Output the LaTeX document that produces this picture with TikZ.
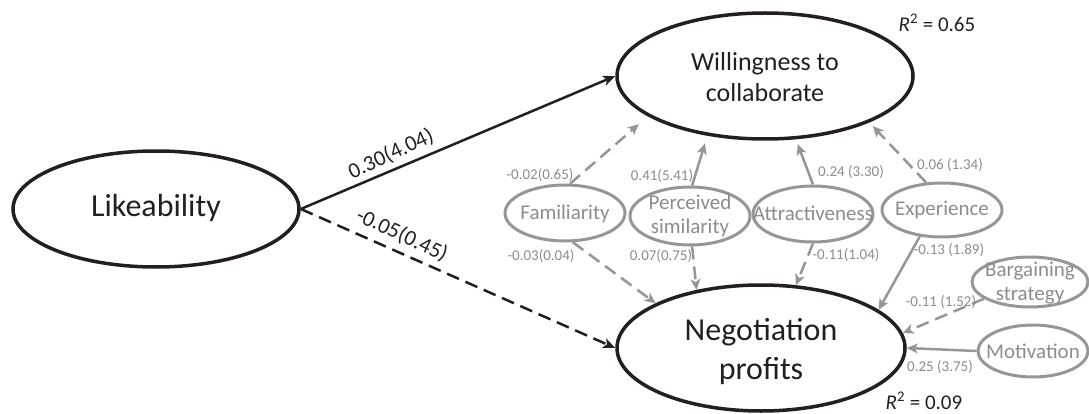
\documentclass[tikz,border=0pt]{standalone}
\usepackage{fontspec}
\setmainfont{Carlito}
\usetikzlibrary{arrows.meta,shapes.geometric}
\definecolor{ink}{RGB}{35,31,32}
\definecolor{gline}{RGB}{150,150,150}
\definecolor{gtext}{RGB}{140,140,140}
\begin{document}
\begin{tikzpicture}[x=1pt,y=-1pt,
  big/.style={ellipse, draw=ink, line width=3.5pt, inner sep=0pt},
  small/.style={ellipse, draw=gline, line width=3pt, inner sep=0pt},
  bigtxt/.style={text=ink, align=center, font=\fontsize{32}{39}\selectfont},
  midtxt/.style={text=ink, align=center, font=\fontsize{26}{31}\selectfont},
  smtxt/.style={text=gtext, align=center, font=\fontsize{21}{24.5}\selectfont},
  coef/.style={text=gtext, font=\fontsize{15}{18}\selectfont, inner sep=0pt},
  bcoef/.style={text=ink, font=\fontsize{22}{26}\selectfont, inner sep=0pt},
  rsq/.style={text=ink, font=\fontsize{21}{25}\selectfont, inner sep=0pt},
  barrow/.style={draw=ink, line width=2.5pt, -{Stealth[length=12pt,width=10pt,inset=3pt]}},
  garrow/.style={draw=gline, line width=2.5pt, -{Stealth[length=11pt,width=10pt,inset=3pt]}},
  dashes/.style={dash pattern=on 13pt off 7pt},
]
\useasboundingbox (0,0) rectangle (1089,414);

% main constructs
\node[big, minimum width=286pt, minimum height=116pt] (L) at (156,209) {};
\node[big, minimum width=296pt, minimum height=126pt] (W) at (765,76) {};
\node[big, minimum width=288pt, minimum height=126pt] (N) at (761,348) {};
\node[bigtxt] (Lt) at (156,208) {Likeability};
\node[midtxt] (Wt) at (765,77) {Willingness to\\collaborate};
\node[bigtxt] (Nt) at (761,352) {Negotiation\\profits};

% controls
\node[small, minimum width=120pt, minimum height=56pt] (Fam) at (565,213) {};
\node[small, minimum width=120pt, minimum height=58pt] (PS) at (690,216) {};
\node[small, minimum width=120pt, minimum height=56pt] (Att) at (813,214) {};
\node[small, minimum width=120pt, minimum height=54pt] (Exp) at (942,210) {};
\node[small, minimum width=116pt, minimum height=50pt] (Barg) at (1030,282) {};
\node[small, minimum width=110pt, minimum height=52pt] (Mot) at (1033,351) {};
\node[smtxt] (Famt) at (565,214) {Familiarity};
\node[smtxt] (PSt) at (690,216) {Perceived\\similarity};
\node[smtxt] (Attt) at (813,213) {Attractiveness};
\node[smtxt] (Expt) at (942,210) {Experience};
\node[smtxt] (Bargt) at (1030,283) {Bargaining\\strategy};
\node[smtxt] (Mott) at (1033,351) {Motivation};

% main paths
\draw[barrow] (L.east) -- (W.west);
\draw[barrow, dashes] (L.east) -- (N.west);
\node[bcoef, rotate=25] (c1) at (391,154) {0.30(4.04)};
\node[bcoef, rotate=-25] (c2) at (402,235) {-0.05(0.45)};

% control paths
\draw[garrow, dashes, shorten >=12pt] (Fam.80) -- (W.199);
\draw[garrow, shorten >=8pt] (PS.86) -- (W.226);
\draw[garrow, shorten >=5pt] (Att.north) -- (W.296);
\draw[garrow, dashes, shorten >=5pt] (Exp.120) -- (W.336);
\draw[garrow, dashes] (Fam.-75) -- (N.157);
\draw[garrow, dashes] (PS.-86) -- (N.138);
\draw[garrow, dashes] (Att.south) -- (N.61);
\draw[garrow] (Exp.230) -- (N.18);
\draw[garrow, dashes] (Barg.200) -- (N.6);
\draw[garrow] (Mot.west) -- (N.east);

% coefficients
\node[coef] (k1) at (540,175) {-0.02(0.65)};
\node[coef] (k2) at (662,176) {0.41(5.41)};
\node[coef] (k3) at (851,172) {0.24 (3.30)};
\node[coef] (k4) at (950,165) {0.06 (1.34)};
\node[coef] (k5) at (541,256) {-0.03(0.04)};
\node[coef] (k6) at (661,256) {0.07(0.75)};
\node[coef] (k7) at (846,255) {-0.11(1.04)};
\node[coef] (k8) at (949,250) {-0.13 (1.89)};
\node[coef] (k9) at (941,302) {-0.11 (1.52)};
\node[coef] (k10) at (940,367) {0.25 (3.75)};

% R squared
\node[rsq] (r1) at (937,23) {\textit{R}\textsuperscript{2} = 0.65};
\node[rsq] (r2) at (924,401) {\textit{R}\textsuperscript{2} = 0.09};
\end{tikzpicture}
\end{document}
